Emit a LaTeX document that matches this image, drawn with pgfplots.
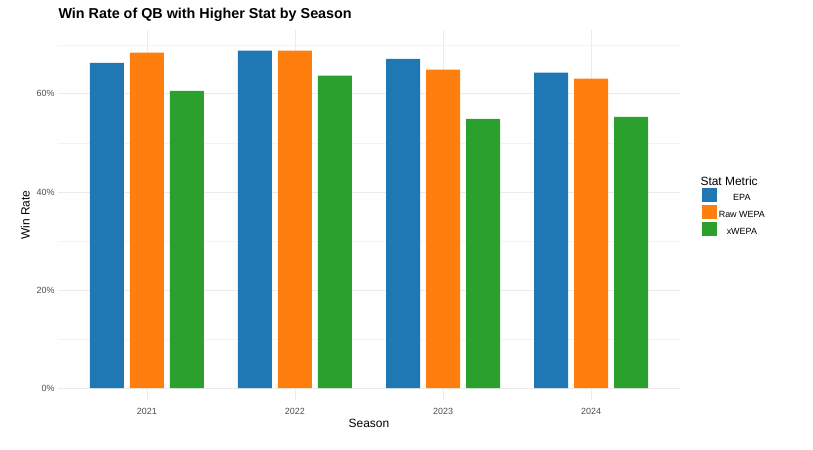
\documentclass[border=0pt]{standalone}
\usepackage{pgfplots}
\pgfplotsset{compat=1.18}
\usepackage{fontspec}
\setmainfont{Liberation Sans}
\definecolor{c1}{HTML}{1F77B4}
\definecolor{c2}{HTML}{FF7F0E}
\definecolor{c3}{HTML}{2CA02C}
\definecolor{gr}{HTML}{EBEBEB}
\begin{document}
\begin{tikzpicture}
\useasboundingbox (-58bp,-50bp) rectangle (755bp,400bp);
\begin{axis}[at={(0,0)},anchor=south west,scale only axis,width=622bp,height=370bp,
 xmin=0.4,xmax=4.6,ymin=-2.4,ymax=73,
 xtick={1,2,3,4},xticklabels={2021,2022,2023,2024},
 ytick={0,20,40,60},yticklabels={0\%,20\%,40\%,60\%},
 minor ytick={10,30,50,70},
 grid=both,major grid style={gr,line width=0.6pt},minor grid style={gr!60,line width=0.4pt},
 axis line style={draw=none},tick style={draw=none},
 tick label style={font=\small,text=black!70},
 xlabel={Season},ylabel={Win Rate},
 label style={font=\large},
 xlabel style={yshift=2pt},
 ybar,bar width=34bp,
 legend style={draw=none,at={(1.03,0.58)},anchor=north west,font=\small,row sep=1pt},
 legend image code/.code={\fill[#1] (0,-0.35em) rectangle (1.5em,1.05em);},
]
\addplot[fill=c1,draw=none,bar shift=-40bp] coordinates {(1,66.3)(2,68.8)(3,67.1)(4,64.3)};
\addplot[fill=c2,draw=none,bar shift=0bp] coordinates {(1,68.4)(2,68.8)(3,64.9)(4,63.1)};
\addplot[fill=c3,draw=none,bar shift=40bp] coordinates {(1,60.6)(2,63.7)(3,54.9)(4,55.3)};
\legend{EPA,Raw WEPA,xWEPA}
\end{axis}
\node[anchor=west,font=\large] at (639bp,219bp) {Stat Metric};
\node[anchor=west,font=\Large\bfseries] at (-3bp,385bp) {Win Rate of QB with Higher Stat by Season};
\end{tikzpicture}
\end{document}
